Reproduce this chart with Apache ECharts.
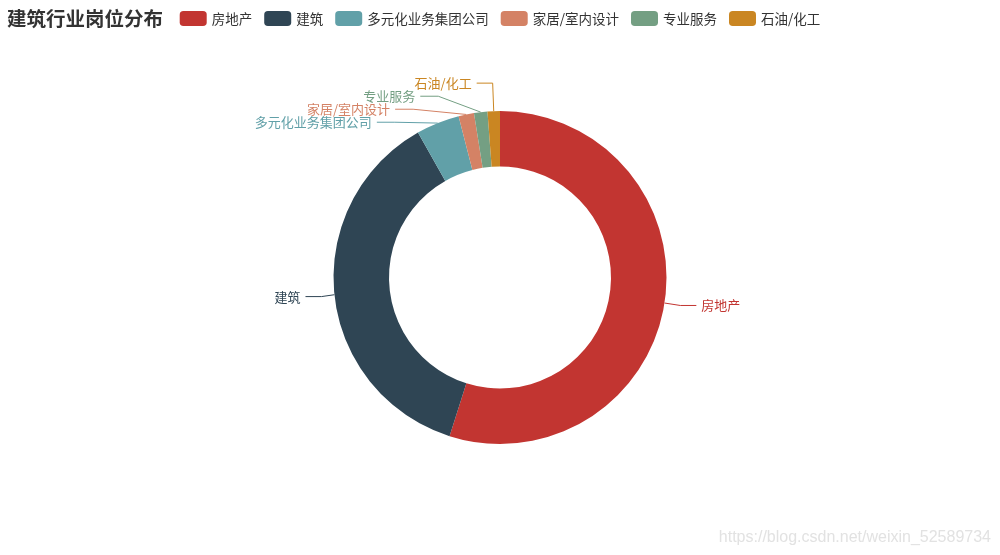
<!DOCTYPE html>
<html>
<head>
<meta charset="utf-8">
<script src="https://cdn.jsdelivr.net/npm/echarts@6/dist/echarts.min.js"></script>
<style>
html,body{margin:0;padding:0;background:#fff;}
#main{width:1000px;height:555px;}
</style>
</head>
<body>
<div id="main"></div>
<script>
var categories = ['房地产', '建筑', '多元化业务集团公司', '家居/室内设计', '专业服务', '石油/化工'];
var values = [54.9, 36.9, 4.2, 1.5, 1.3, 1.2];
var colors = ['#c23531', '#2f4554', '#61a0a8', '#d48265', '#749f83', '#ca8622'];
var lineLengths = [16, 18, 16, 16, 16, 28];
var lineLengths2 = [16, 16, 18, 18, 18, 16];

var font = '"Noto Sans CJK SC", "Microsoft YaHei", sans-serif';
var chart = echarts.init(document.getElementById('main'));
chart.setOption({
  color: colors,
  animation: false,
  title: {
    text: '建筑行业岗位分布',
    left: 2, top: 4,
    textStyle: {fontSize: 19.5, fontWeight: 'bold', color: '#333', fontFamily: font}
  },
  legend: {
    top: 6,
    left: 'center',
    icon: 'roundRect',
    itemWidth: 27,
    itemHeight: 15,
    itemGap: 12,
    data: categories,
    textStyle: {fontSize: 13.5, color: '#333', fontFamily: font}
  },
  graphic: [{
    type: 'text',
    right: 9, bottom: 9,
    style: {text: 'https://blog.csdn.net/weixin_52589734', fill: '#e2e2e2', font: '16px "Liberation Sans", Arial, sans-serif'}
  }],
  series: [{
    type: 'pie',
    radius: ['40%', '60%'],
    center: ['50%', '50%'],
    startAngle: 90,
    clockwise: true,
    avoidLabelOverlap: true,
    itemStyle: {borderWidth: 0},
    label: {show: true, position: 'outside', fontSize: 13, lineHeight: 13, minMargin: 0, padding: [-1, 0, -1, 0], fontFamily: font, color: 'inherit'},
    labelLine: {show: true, length: 16, length2: 16, smooth: false},
    data: categories.map(function (c, i) {
      return {name: c, value: values[i], label: {color: colors[i]},
        labelLine: {length: lineLengths[i], length2: lineLengths2[i], lineStyle: {color: colors[i]}}};
    })
  }]
});
</script>
</body>
</html>
